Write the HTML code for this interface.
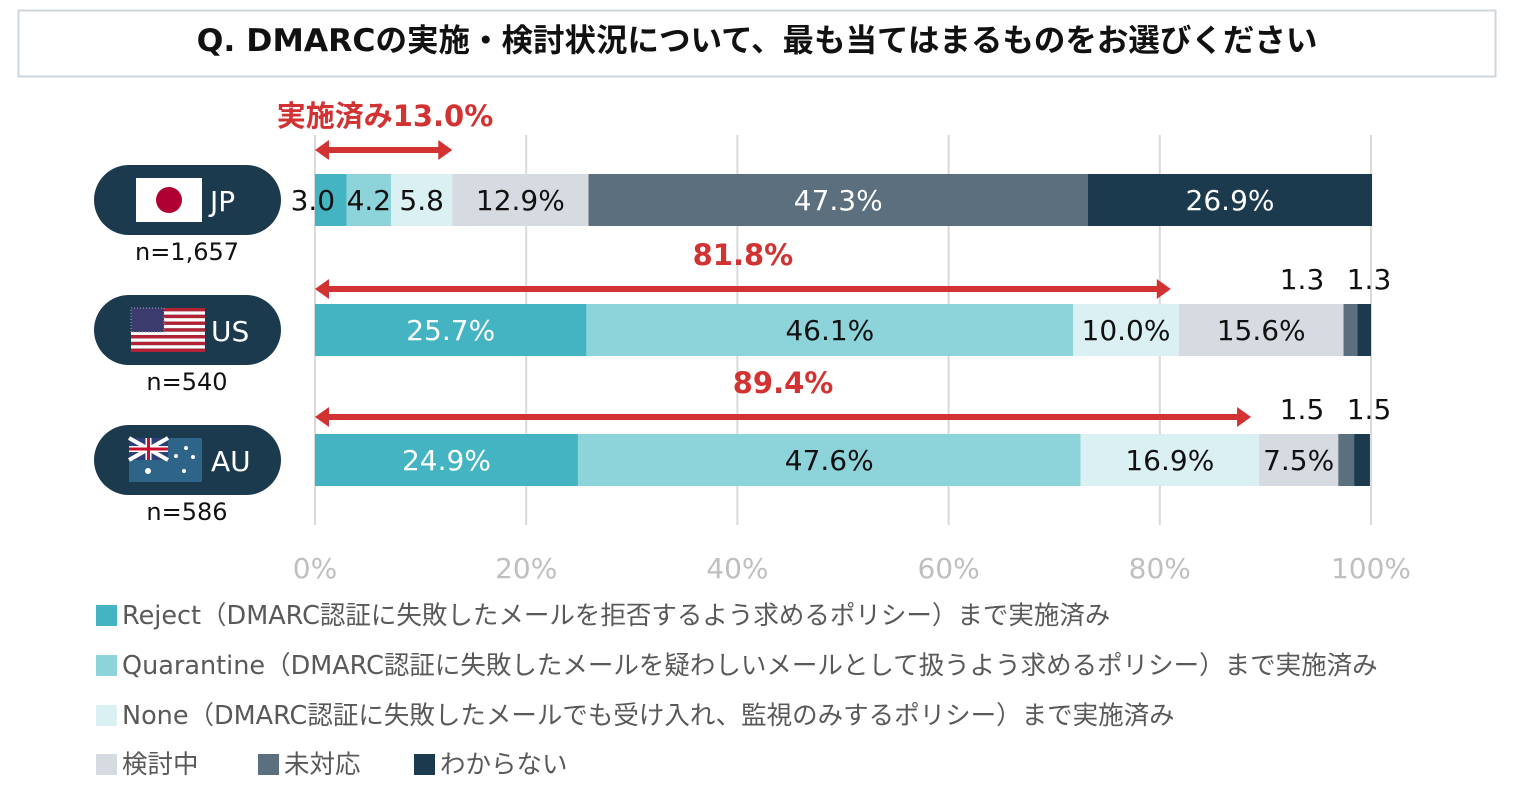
<!DOCTYPE html>
<html><head><meta charset="utf-8"><style>
body{margin:0;width:1522px;height:798px;background:#fff;overflow:hidden;font-family:"DejaVu Sans","Noto Sans CJK JP",sans-serif}
</style></head><body>
<svg id="c" width="1522" height="798" xmlns="http://www.w3.org/2000/svg" font-family="DejaVu Sans, Noto Sans CJK JP, sans-serif">
<rect x="18.5" y="10.5" width="1477" height="66" fill="#fff" stroke="#cfd7de" stroke-width="2"/>
<text x="757" y="51" text-anchor="middle" font-size="31.5" font-weight="bold" fill="#111">Q. DMARCの実施・検討状況について、最も当てはまるものをお選びください</text>
<g id="grid"></g><g id="bars"></g><g id="pills"></g><g id="legend"></g>
</svg>
<script>
const categories=["JP","US","AU"];
const samples=["n=1,657","n=540","n=586"];
const reject=[3.0,25.7,24.9];
const quarantine=[4.2,46.1,47.6];
const none=[5.8,10.0,16.9];
const considering=[12.9,15.6,7.5];
const notDone=[47.3,1.3,1.5];
const unknown=[26.9,1.3,1.5];
const implemented=[13.0,81.8,89.4];
const ticks=[0,20,40,60,80,100];
const seriesNames=["Reject（DMARC認証に失敗したメールを拒否するよう求めるポリシー）まで実施済み","Quarantine（DMARC認証に失敗したメールを疑わしいメールとして扱うよう求めるポリシー）まで実施済み","None（DMARC認証に失敗したメールでも受け入れ、監視のみするポリシー）まで実施済み","検討中","未対応","わからない"];
const colors=["#44b4c2","#8dd3da","#daf0f2","#d5dbe1","#5b6f7f","#1b3a4e"];
const NS="http://www.w3.org/2000/svg";
const X=v=>315+v*10.56;
const Y=i=>174+i*130;
function mk(p,tag,a,t){const e=document.createElementNS(NS,tag);for(const k in a)e.setAttribute(k,a[k]);if(t!==undefined)e.textContent=t;p.appendChild(e);return e;}
const grid=document.getElementById('grid');
ticks.forEach(t=>{
 const l=mk(grid,'line',{x1:X(t),x2:X(t),y1:135,y2:525,stroke:'#d9d9d9','stroke-width':2});
 
 
 const tx=mk(grid,'text',{x:X(t),y:578,'text-anchor':'middle','font-size':28,fill:'#bfbfbf'},t+'%');
 
 
});
const bars=document.getElementById('bars');
const series=[reject,quarantine,none,considering,notDone,unknown];
categories.forEach((c,i)=>{
 let acc=0;const y=Y(i);
 series.forEach((s,j)=>{
  const v=s[i];const x0=X(acc),x1=X(acc+v);acc+=v;
  const r=mk(bars,'rect',{x:x0,y:y,width:x1-x0,height:52,fill:colors[j]});
  
  
  let tx,ty=y+36,txt;
  if(v<2){tx=(j===5?X(100)-2:X(100)-69);ty=y-15;txt=v.toFixed(1);}
  else if(i===0&&v<10){txt=v.toFixed(1);tx=(j===0)?(x0+x1)/2-18:(x0+x1)/2;}
  else {txt=v.toFixed(1)+'%';tx=(x0+x1)/2;}
  const col=(j>=4&&v>=2)||j===0&&v>=10?'#fff':'#111';
  const t=mk(bars,'text',{x:tx,y:ty,'text-anchor':'middle','font-size':28,fill:col},txt);
  
  
 });
 const ayy=i===0?150:(i===1?289:417);
 const xe=X(implemented[i])-(i===0?0:8);
 const g=mk(bars,'g',{});
 
 
 mk(g,'line',{x1:X(0)+10,x2:xe-10,y1:ayy,y2:ayy,stroke:'#d33232','stroke-width':6});
 mk(g,'polygon',{points:`${X(0)},${ayy} ${X(0)+14},${ayy-10} ${X(0)+14},${ayy+10}`,fill:'#d33232'});
 mk(g,'polygon',{points:`${xe},${ayy} ${xe-14},${ayy-10} ${xe-14},${ayy+10}`,fill:'#d33232'});
 const lt=mk(bars,'text',{x:i===0?385:(X(0)+xe)/2,y:ayy-24,'text-anchor':'middle','font-size':29,'font-weight':'bold',fill:'#d33232'},(i===0?'実施済み':'')+implemented[i].toFixed(1)+'%');
 
 
});
const pills=document.getElementById('pills');
categories.forEach((c,i)=>{
 const y=Y(i)-9;
 const g=mk(pills,'g',{});
 
 
 mk(g,'rect',{x:94,y:y,width:187,height:70,rx:35,fill:'#1b3a4e'});
 const fy=y+13;
 if(c==='JP'){mk(g,'rect',{x:136,y:fy,width:66,height:44,fill:'#fff'});mk(g,'circle',{cx:169,cy:fy+22,r:13,fill:'#b00033'});}
 else if(c==='US'){for(let k=0;k<13;k++)mk(g,'rect',{x:131,y:fy+k*44/13,width:74,height:44/13,fill:k%2?'#fff':'#b22234'});mk(g,'rect',{x:131,y:fy,width:33,height:24,fill:'#3c3b6e'});mk(g,'rect',{x:131,y:fy,width:33,height:24,fill:'none',stroke:'#aab',"stroke-dasharray":"1 2"});}
 else {mk(g,'rect',{x:129,y:fy,width:73,height:44,fill:'#2e6487'});mk(g,'rect',{x:129,y:fy,width:39,height:22,fill:'#2e3f7a'});mk(g,'path',{d:`M129 ${fy}L168 ${fy+22}M168 ${fy}L129 ${fy+22}`,stroke:'#fff','stroke-width':4});mk(g,'path',{d:`M148.5 ${fy}V${fy+22}M129 ${fy+11}H168`,stroke:'#fff','stroke-width':6});mk(g,'path',{d:`M148.5 ${fy}V${fy+22}M129 ${fy+11}H168`,stroke:'#c8102e','stroke-width':3});[[148,fy+33,3],[176,fy+18,2],[186,fy+10,2],[193,fy+19,2],[184,fy+33,2]].forEach(p=>mk(g,'circle',{cx:p[0],cy:p[1],r:p[2],fill:'#fff'}));}
 mk(g,'text',{x:c==='JP'?210:211,y:y+46,'font-size':28,fill:'#fff'},c);
 const n=mk(pills,'text',{x:187,y:Y(i)+86,'text-anchor':'middle','font-size':24,fill:'#111'},samples[i]);
 
 
});
const lg=document.getElementById('legend');
const pos=[[96,605],[96,655],[96,705],[96,754],[258,754],[414,754]];
seriesNames.forEach((s,j)=>{
 const g=mk(lg,'g',{});
 
 
 mk(g,'rect',{x:pos[j][0],y:pos[j][1],width:21,height:21,fill:colors[j]});
 mk(g,'text',{x:pos[j][0]+26,y:pos[j][1]+19,'font-size':25.5,fill:'#595959'},s);
});
</script>
</body></html>
